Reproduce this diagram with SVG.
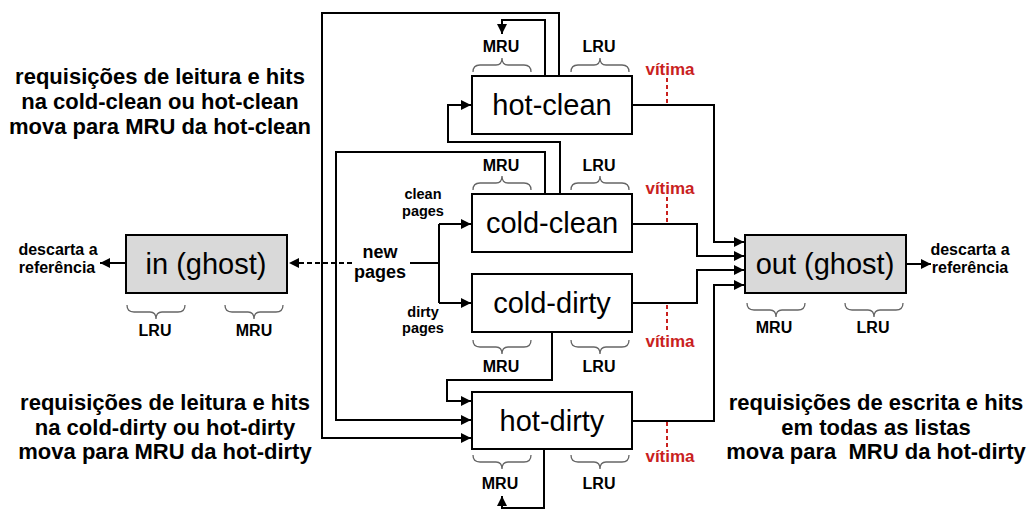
<svg xmlns="http://www.w3.org/2000/svg" width="1030" height="509" viewBox="0 0 1030 509">
<style>
.box{fill:#fff;stroke:#000;stroke-width:2}
.ghost{fill:#d9d9d9;stroke:#000;stroke-width:2}
.bt{font-family:"Liberation Sans",Arial,sans-serif;font-size:29px;text-anchor:middle;fill:#000}
.lbl{font-family:"Liberation Sans",Arial,sans-serif;font-size:16px;font-weight:bold;text-anchor:middle;fill:#000}
.sm{font-family:"Liberation Sans",Arial,sans-serif;font-size:14.5px;font-weight:bold;text-anchor:middle;fill:#000}
.np{font-family:"Liberation Sans",Arial,sans-serif;font-size:18px;font-weight:bold;text-anchor:middle;fill:#000}
.ds{font-family:"Liberation Sans",Arial,sans-serif;font-size:16px;font-weight:bold;text-anchor:middle;fill:#000}
.vt{font-family:"Liberation Sans",Arial,sans-serif;font-size:17px;font-weight:bold;text-anchor:middle;fill:#c9211e}
.big{font-family:"Liberation Sans",Arial,sans-serif;font-size:22px;font-weight:bold;text-anchor:middle;fill:#000}
.c{fill:none;stroke:#000;stroke-width:2}
.dash{fill:none;stroke:#000;stroke-width:2;stroke-dasharray:5,3}
.red{fill:none;stroke:#c9211e;stroke-width:2;stroke-dasharray:4,3}
.br{fill:none;stroke:#666;stroke-width:1.3}
</style>
<defs>
<marker id="ah" markerWidth="11" markerHeight="11" refX="10" refY="5" orient="auto" markerUnits="userSpaceOnUse">
<path d="M0,0 L10,5 L0,10 Z" fill="#000"/>
</marker>
<path id="bu" d="M0,0 c0,-5 2,-7 7,-7 H23 c4,0 6,-2 6,-7 c0,5 2,7 6,7 H51 c5,0 7,2 7,7"/>
<path id="bd" d="M0,0 c0,5 2,7 7,7 H23 c4,0 6,2 6,7 c0,-5 2,-7 6,-7 H51 c5,0 7,-2 7,-7"/>
</defs>

<g id="connectors">
<path class="c" d="M545,76 V20 H502 V34" marker-end="url(#ah)"/>
<path class="c" d="M559,76 V13 H322 V438 H471" marker-end="url(#ah)"/>
<path class="c" d="M560,194 V142 H448 V105 H471" marker-end="url(#ah)"/>
<path class="c" d="M545,194 V152 H336 V420 H471" marker-end="url(#ah)"/>
<path class="c" d="M410,263 H439 M439,224 V303"/>
<path class="c" d="M439,224 H471" marker-end="url(#ah)"/>
<path class="c" d="M439,303 H471" marker-end="url(#ah)"/>
<path class="dash" d="M352,263 H289" marker-end="url(#ah)"/>
<path class="c" d="M552,332 V380 H447 V401 H471" marker-end="url(#ah)"/>
<path class="c" d="M544,449 V508 H502 V496" marker-end="url(#ah)"/>
<path class="c" d="M632,105 H714 V242 H744" marker-end="url(#ah)"/>
<path class="c" d="M632,224 H697 V256 H744" marker-end="url(#ah)"/>
<path class="c" d="M632,303 H697 V270 H744" marker-end="url(#ah)"/>
<path class="c" d="M632,421 H714 V285 H744" marker-end="url(#ah)"/>
<path class="c" d="M126,263 H100" marker-end="url(#ah)"/>
<path class="c" d="M906,264 H931" marker-end="url(#ah)"/>
<path class="red" d="M667,78 V104 M667,197 V223 M667,305 V331 M667,422 V448"/>
</g>

<g id="hot-clean">
<rect class="box" x="472" y="76" width="160" height="58"/>
<text class="bt" x="552" y="115">hot-clean</text>
<use href="#bu" class="br" x="473" y="72"/>
<use href="#bu" class="br" x="571" y="72"/>
<text class="lbl" x="501" y="52">MRU</text>
<text class="lbl" x="599" y="52">LRU</text>
<text class="vt" x="670" y="75">vítima</text>
</g>

<g id="cold-clean">
<rect class="box" x="472" y="194" width="160" height="58"/>
<text class="bt" x="552" y="233">cold-clean</text>
<use href="#bu" class="br" x="473" y="190"/>
<use href="#bu" class="br" x="571" y="190"/>
<text class="lbl" x="501" y="171">MRU</text>
<text class="lbl" x="599" y="171">LRU</text>
<text class="vt" x="670" y="194">vítima</text>
</g>

<g id="cold-dirty">
<rect class="box" x="472" y="274" width="160" height="58"/>
<text class="bt" x="552" y="313">cold-dirty</text>
<use href="#bd" class="br" x="473" y="340"/>
<use href="#bd" class="br" x="571" y="340"/>
<text class="lbl" x="501" y="372">MRU</text>
<text class="lbl" x="599" y="372">LRU</text>
<text class="vt" x="670" y="347">vítima</text>
</g>

<g id="hot-dirty">
<rect class="box" x="472" y="392" width="160" height="57"/>
<text class="bt" x="552" y="431">hot-dirty</text>
<use href="#bd" class="br" x="473" y="455"/>
<use href="#bd" class="br" x="571" y="455"/>
<text class="lbl" x="500" y="489">MRU</text>
<text class="lbl" x="599" y="489">LRU</text>
<text class="vt" x="670" y="462">vítima</text>
</g>

<g id="in-ghost">
<rect class="ghost" x="126" y="235" width="161" height="58"/>
<text class="bt" x="206" y="274">in (ghost)</text>
<use href="#bd" class="br" x="127" y="305"/>
<use href="#bd" class="br" x="225" y="305"/>
<text class="lbl" x="155" y="336">LRU</text>
<text class="lbl" x="254" y="336">MRU</text>
<text class="ds" x="58" y="255">descarta a</text>
<text class="ds" x="57" y="273">referência</text>
</g>

<g id="out-ghost">
<rect class="ghost" x="745" y="235" width="161" height="58"/>
<text class="bt" x="825" y="274">out (ghost)</text>
<use href="#bd" class="br" x="747" y="303"/>
<use href="#bd" class="br" x="845" y="303"/>
<text class="lbl" x="774" y="333">MRU</text>
<text class="lbl" x="873" y="333">LRU</text>
<text class="ds" x="970" y="255">descarta a</text>
<text class="ds" x="970" y="273">referência</text>
</g>

<g id="new-pages">
<text class="np" x="380" y="258">new</text>
<text class="np" x="380" y="278">pages</text>
<text class="sm" x="423" y="199">clean</text>
<text class="sm" x="423" y="216">pages</text>
<text class="sm" x="423" y="317">dirty</text>
<text class="sm" x="423" y="333">pages</text>
</g>

<g id="notes">
<text class="big" x="160" y="84">requisições de leitura e hits</text>
<text class="big" x="160" y="109">na cold-clean ou hot-clean</text>
<text class="big" x="160" y="134">mova para MRU da hot-clean</text>
<text class="big" x="165" y="410">requisições de leitura e hits</text>
<text class="big" x="165" y="435">na cold-dirty ou hot-dirty</text>
<text class="big" x="165" y="459">mova para MRU da hot-dirty</text>
<text class="big" x="876" y="410">requisições de escrita e hits</text>
<text class="big" x="876" y="435">em todas as listas</text>
<text class="big" x="876" y="459" xml:space="preserve">mova para  MRU da hot-dirty</text>
</g>
</svg>
